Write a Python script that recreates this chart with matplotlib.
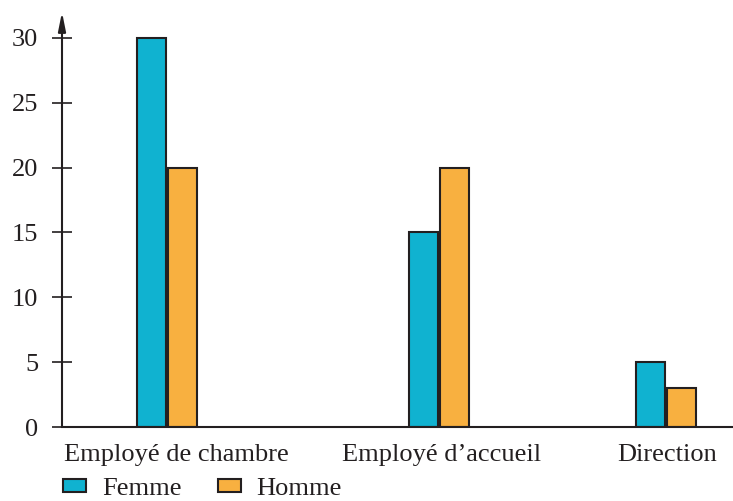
import matplotlib
matplotlib.use("Agg")
from matplotlib import pyplot as plt
from matplotlib.patches import Patch

categories = ["Employé de chambre", "Employé d\u2019accueil", "Direction"]
positions = [0.0, 1.0, 1.835]
label_positions = [0.033, 1.011, 1.838]
femme = [30, 15, 5]
homme = [20, 20, 3]
yticks = [0, 5, 10, 15, 20, 25, 30]

ink = "#231f20"
cyan = "#10b2d0"
orange = "#f8b040"

plt.rcParams["font.family"] = ["Liberation Serif", "DejaVu Serif"]
plt.rcParams["font.size"] = 19
plt.rcParams["text.color"] = ink

fig = plt.figure(figsize=(7.33, 5.01), dpi=100)
ax = fig.add_axes([62 / 733, 1 - 427 / 501, 1 - 62 / 733, (427 - 12) / 501])

w = 0.107
gap = 0.004
ax.bar([p - w / 2 - gap for p in positions], femme, width=w, color=cyan,
       edgecolor=ink, linewidth=1.5, label="Femme")
ax.bar([p + w / 2 + gap for p in positions], homme, width=w, color=orange,
       edgecolor=ink, linewidth=1.5, label="Homme")

ax.set_xlim(-105 / 272, -105 / 272 + 671 / 272)
ax.set_ylim(0, 32)

for s in ["top", "right", "left"]:
    ax.spines[s].set_visible(False)
ax.spines["bottom"].set_color(ink)
ax.spines["bottom"].set_linewidth(1.5)

# y axis with arrow
ax.annotate("", xy=(0, 1.0), xytext=(0, 0), xycoords="axes fraction",
            arrowprops=dict(arrowstyle="-|>,head_length=0.7,head_width=0.14",
                            color=ink, lw=1.5, mutation_scale=16,
                            shrinkA=0, shrinkB=0))

ax.set_yticks(yticks)
ax.tick_params(axis="y", direction="inout", length=14, width=1.2,
               color=ink, pad=10, labelcolor=ink)
ax.set_xticks(label_positions)
ax.set_xticklabels(categories)
ax.tick_params(axis="x", length=0, pad=12, labelcolor=ink)

handles = [Patch(facecolor=cyan, edgecolor=ink, linewidth=1.5, label="Femme"),
           Patch(facecolor=orange, edgecolor=ink, linewidth=1.5, label="Homme")]
fig.legend(handles=handles, loc="lower left", bbox_to_anchor=(45 / 733, -0.035),
           ncol=2, frameon=False, handlelength=0.85, handleheight=0.4,
           handletextpad=0.6, columnspacing=1.4, borderpad=0.2)

fig.savefig("out.png", dpi=100)
